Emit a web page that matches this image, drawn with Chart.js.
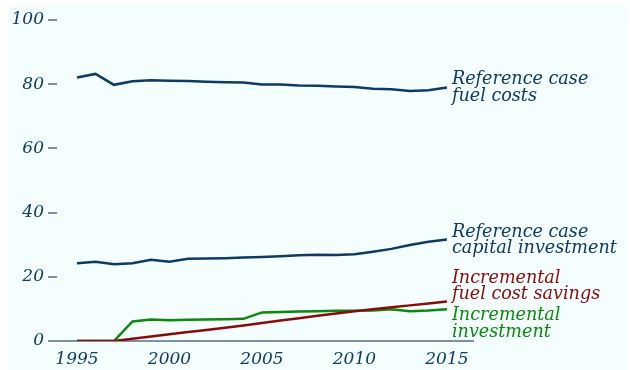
<!DOCTYPE html>
<html>
<head>
<meta charset="utf-8">
<script src="https://cdn.jsdelivr.net/npm/chart.js@4/dist/chart.umd.min.js"></script>
<style>
  html, body { margin: 0; padding: 0; background: #ffffff; }
  #wrap { width: 630px; height: 370px; position: relative; }
</style>
</head>
<body>
<div id="wrap"><canvas id="chart" width="630" height="370"></canvas></div>
<script>
const years = [1995, 1996, 1997, 1998, 1999, 2000, 2001, 2002, 2003, 2004, 2005,
               2006, 2007, 2008, 2009, 2010, 2011, 2012, 2013, 2014, 2015];

const fuelCosts = [82.1, 83.2, 79.8, 80.9, 81.2, 81.1, 81.0, 80.8, 80.6, 80.5, 79.9,
                   79.9, 79.6, 79.5, 79.3, 79.1, 78.6, 78.4, 77.9, 78.1, 79.0];
const capitalInvestment = [24.2, 24.7, 23.9, 24.2, 25.3, 24.7, 25.6, 25.7, 25.8, 26.0, 26.2,
                           26.4, 26.7, 26.9, 26.8, 27.0, 27.8, 28.7, 29.9, 30.9, 31.6];
const fuelSavings = [0, 0, 0, 0.7, 1.4, 2.1, 2.8, 3.4, 4.1, 4.8, 5.6,
                     6.4, 7.1, 7.9, 8.6, 9.3, 9.9, 10.5, 11.1, 11.7, 12.3];
const incInvestment = [0, 0, 0, 6.1, 6.7, 6.5, 6.6, 6.7, 6.8, 6.9, 8.9,
                       9.0, 9.2, 9.3, 9.4, 9.4, 9.5, 9.9, 9.3, 9.5, 9.9];

const yTicks = [0, 20, 40, 60, 80, 100];
const xTicks = [1995, 2000, 2005, 2010, 2015];

const navy = '#0d3b63';
const darkRed = '#8b0a0a';
const green = '#0a8a0a';
const axisGray = '#7d92a8';
const font = { family: 'DejaVu Serif', style: 'italic', size: 17 };

const toPoints = vals => vals.map((v, i) => ({ x: years[i], y: v }));

// light background panel
const bgPlugin = {
  id: 'bg',
  beforeDraw(chart) {
    const ctx = chart.ctx;
    ctx.save();
    ctx.fillStyle = '#f5fefe';
    ctx.fillRect(8, 4, chart.width - 10, chart.height - 4);
    ctx.restore();
  }
};

// series names at the end of each line
const endLabels = {
  id: 'endLabels',
  afterDatasetsDraw(chart) {
    const ctx = chart.ctx;
    ctx.save();
    ctx.font = 'italic 17.6px "DejaVu Serif"';
    ctx.textAlign = 'left';
    ctx.textBaseline = 'alphabetic';
    chart.data.datasets.forEach((ds, i) => {
      const meta = chart.getDatasetMeta(i);
      const last = meta.data[meta.data.length - 1];
      ctx.fillStyle = ds.borderColor;
      const y0 = last.y + ds.labelOffset;
      ds.names.forEach((line, k) => {
        ctx.fillText(line, last.x + 5, y0 + k * 16.5);
      });
    });
    ctx.restore();
  }
};

new Chart(document.getElementById('chart').getContext('2d'), {
  type: 'line',
  data: {
    datasets: [
      { data: toPoints(fuelCosts), borderColor: navy,
        names: ['Reference case', 'fuel costs'], labelOffset: -3 },
      { data: toPoints(capitalInvestment), borderColor: navy,
        names: ['Reference case', 'capital investment'], labelOffset: -3 },
      { data: toPoints(incInvestment), borderColor: green, order: 2,
        names: ['Incremental', 'investment'], labelOffset: 11 },
      { data: toPoints(fuelSavings), borderColor: darkRed, order: 1,
        names: ['Incremental', 'fuel cost savings'], labelOffset: -19 }
    ].map(d => Object.assign({ borderWidth: 2.5, pointRadius: 0, tension: 0, fill: false }, d))
  },
  options: {
    responsive: false,
    animation: false,
    layout: { padding: { left: 0, right: 157, top: 20, bottom: 0 } },
    plugins: { legend: { display: false }, tooltip: { enabled: false } },
    scales: {
      x: {
        type: 'linear',
        min: 1993.92,
        max: 2016.41,
        afterBuildTicks: axis => { axis.ticks = xTicks.map(v => ({ value: v })); },
        afterFit: axis => { axis.height = 29; },
        grid: { display: false },
        border: { display: true, color: axisGray, width: 2 },
        ticks: { color: navy, font: font, padding: 0, maxRotation: 0, callback: v => String(v) }
      },
      y: {
        min: 0,
        max: 100,
        afterBuildTicks: axis => { axis.ticks = yTicks.map(v => ({ value: v })); },
        afterFit: axis => { axis.width = 57; },
        grid: { drawOnChartArea: false, tickLength: 9, color: axisGray, lineWidth: 2 },
        border: { display: false },
        ticks: { color: navy, font: font, padding: 4 }
      }
    }
  },
  plugins: [bgPlugin, endLabels]
});
</script>
</body>
</html>
